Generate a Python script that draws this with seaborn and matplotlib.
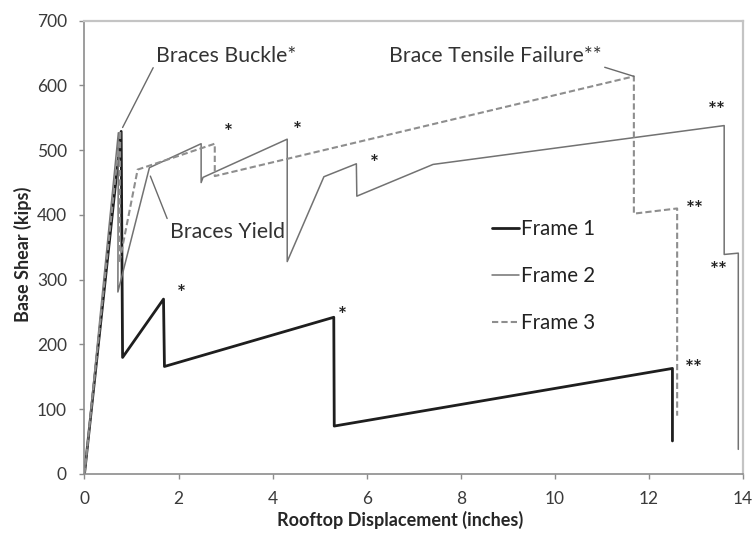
import matplotlib
matplotlib.use("Agg")
import matplotlib.pyplot as plt
import matplotlib.transforms as mtransforms
import seaborn as sns
import pandas as pd

# Data (Rooftop displacement in inches, base shear in kips)
f1_x = [0, 0.78, 0.81, 1.68, 1.70, 5.30, 5.31, 12.50, 12.50]
f1_y = [0, 529, 180, 270, 166, 242, 74, 163, 51]

f2_x = [0, 0.72, 0.71, 1.38, 2.48, 2.48, 2.52, 4.31, 4.31, 5.09, 5.78, 5.79, 7.41, 13.60, 13.60, 13.90, 13.90]
f2_y = [0, 527, 281, 473, 510, 450, 458, 517, 328, 459, 479, 429, 478, 538, 339, 341, 38]

f3_x = [0, 0.76, 0.74, 1.13, 2.77, 2.77, 11.68, 11.68, 12.60, 12.60]
f3_y = [0, 530, 326, 470, 510, 460, 614, 402, 410, 90]

frames = ["Frame 1", "Frame 2", "Frame 3"]

single_star_x = [3.06, 4.53, 2.06, 5.49, 6.17]
single_star_y = [533, 536, 284, 250, 485]
double_star_x = [13.44, 12.98, 13.49, 12.96]
double_star_y = [567, 414, 320, 168]

df = pd.concat([
    pd.DataFrame({"x": f1_x, "y": f1_y, "frame": frames[0]}),
    pd.DataFrame({"x": f2_x, "y": f2_y, "frame": frames[1]}),
    pd.DataFrame({"x": f3_x, "y": f3_y, "frame": frames[2]}),
])

sns.set_theme(style="white")
plt.rcParams["font.family"] = ["Lato", "DejaVu Sans"]

fig = plt.figure(figsize=(7.55, 5.34), dpi=100)
ax = fig.add_axes([0.1119, 0.1124, 0.8722, 0.8489])

styles = {
    "Frame 1": dict(color="#1e1e1e", lw=2.0, ls="-"),
    "Frame 2": dict(color="#727272", lw=1.1, ls="-"),
    "Frame 3": dict(color="#8e8e8e", lw=1.5, ls=(0, (3, 1.5))),
}
for fr in frames:
    sub = df[df["frame"] == fr]
    st = styles[fr]
    sns.lineplot(data=sub, x="x", y="y", sort=False, estimator=None, ax=ax,
                 color=st["color"], linewidth=st["lw"], linestyle=st["ls"], label=fr)

ax.set_xlim(0, 14)
ax.set_ylim(0, 700)
ax.set_xticks(range(0, 15, 2))
ax.set_yticks(range(0, 701, 100))
ax.tick_params(axis="both", labelsize=12.5, labelcolor="#3a3a3a", color="#8c8c8c",
               length=3.6, width=1, direction="out", bottom=True, left=True, pad=9)
for s in ["left", "bottom"]:
    ax.spines[s].set_color("#8c8c8c")
    ax.spines[s].set_linewidth(1.2)
for s in ["top", "right"]:
    ax.spines[s].set_color("#c4c4c4")
    ax.spines[s].set_linewidth(1.6)

ax.set_xlabel("Rooftop Displacement (inches)", fontsize=13, fontweight="bold", color="#262626")
ax.set_ylabel("Base Shear (kips)", fontsize=13, fontweight="bold", color="#262626")
ax.xaxis.set_label_coords(0.48, -0.082)
ax.yaxis.set_label_coords(-0.080, 0.485)

# stars (glyph centre sits high in the text box, so nudge down a little)
star_tr = mtransforms.offset_copy(ax.transData, fig=fig, x=0, y=-4, units="dots")
for x, y in zip(single_star_x, single_star_y):
    ax.text(x, y, "*", fontsize=15, fontweight="bold", ha="center", va="center",
            color="#222222", transform=star_tr)
for x, y in zip(double_star_x, double_star_y):
    ax.text(x, y, "**", fontsize=15, fontweight="bold", ha="center", va="center",
            color="#222222", transform=star_tr)

# annotations
ann_color = "#333333"
lead = dict(arrowstyle="-", color="#6a6a6a", lw=1, shrinkA=0, shrinkB=0)
ax.annotate("Braces Buckle*", xy=(0.81, 535), xytext=(1.53, 645), fontsize=15.3, color=ann_color,
            va="center", ha="left", arrowprops=dict(lead, relpos=(0, 0.25)))
ax.annotate("Brace Tensile Failure**", xy=(11.68, 614), xytext=(6.47, 645), fontsize=15.3,
            color=ann_color, va="center", ha="left", arrowprops=dict(lead, relpos=(0.94, 0.2)))
ax.annotate("Braces Yield", xy=(1.40, 460), xytext=(1.81, 374), fontsize=15.3, color=ann_color,
            va="center", ha="left", arrowprops=dict(lead, relpos=(0, 0.85)))

leg = ax.legend(loc="center left", bbox_to_anchor=(0.6185, 0.437), frameon=False, fontsize=14.8,
                borderpad=0, borderaxespad=0, handlelength=1.32, handletextpad=0.1,
                labelspacing=1.32, labelcolor="#222222")

fig.savefig("out.png", dpi=100, facecolor="white")
